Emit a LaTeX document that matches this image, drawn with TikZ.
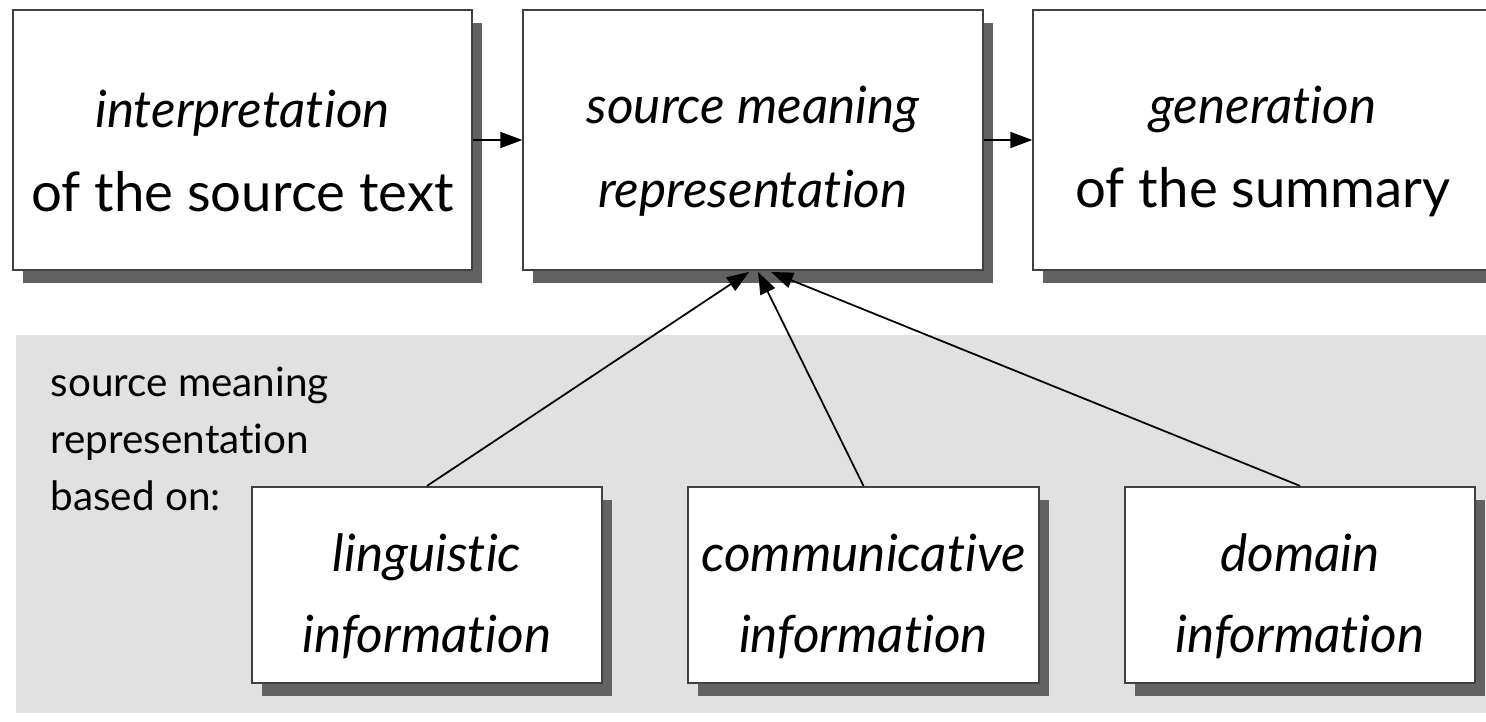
\documentclass[tikz,border=0pt]{standalone}
\usepackage{fontspec}
\setmainfont{Lato}[Ligatures={TeX,NoCommon}]
\usetikzlibrary{positioning,shadows,arrows.meta}
\definecolor{shadowgray}{RGB}{98,98,98}
\definecolor{panelgray}{RGB}{225,225,225}
\newcommand{\topstrut}{\rule{0pt}{17pt}}
\newcommand{\itl}[1]{{\fontsize{14.6}{24}\selectfont\itshape #1}}
\tikzset{
  stage/.style={draw=black!75, line width=0.6pt, fill=white, align=center,
    drop shadow={shadow xshift=0.1cm, shadow yshift=-0.13cm, fill=shadowgray, opacity=1}},
  topbox/.style={stage, minimum width=4.59cm, minimum height=2.6cm, font=\fontsize{15.5}{24}\selectfont},
  infobox/.style={stage, minimum width=3.5cm, minimum height=1.96cm, font=\fontsize{14.6}{23}\selectfont\itshape},
  flow/.style={-{Triangle[length=0.22cm,width=0.16cm]}, line width=0.5pt},
}

\begin{document}
\begin{tikzpicture}[x=0.01cm,y=-0.01cm]
    \useasboundingbox (0,0) rectangle (1486,721);
    \clip (0,0) rectangle (1486,721);
    \fill[panelgray] (16,335) rectangle (1500,713);
    % main chain
    \node[topbox] (interp) at (242.5,140) {\topstrut\itl{interpretation}\\of the source text};
    \node[topbox] (repr) at (753,140) {\topstrut\itl{source meaning}\\\itl{representation}};
    \node[topbox] (gen) at (1263,140) {\topstrut\itl{generation}\\of the summary};
    \draw[flow] (interp) -- (repr);
    \draw[flow] (repr) -- (gen);
    % knowledge sources
    \node[anchor=north west, inner sep=0pt, align=left, font=\fontsize{11.5}{16.2}\selectfont] (basis) at (50,366)
      {source meaning\\representation\\based on:};
    \node[infobox] (ling) at (427,585) {\topstrut linguistic\\information};
    \node[infobox] (comm) at (863.5,585) {\topstrut communicative\\information};
    \node[infobox] (dom) at (1300,585) {\topstrut domain\\information};
    \coordinate (tipL) at (749,272);
    \coordinate (tipC) at (758,272);
    \coordinate (tipD) at (771,272);
    \draw[flow] (ling.north) -- (tipL);
    \draw[flow] (comm.north) -- (tipC);
    \draw[flow] (dom.north) -- (tipD);
\end{tikzpicture}
\end{document}
